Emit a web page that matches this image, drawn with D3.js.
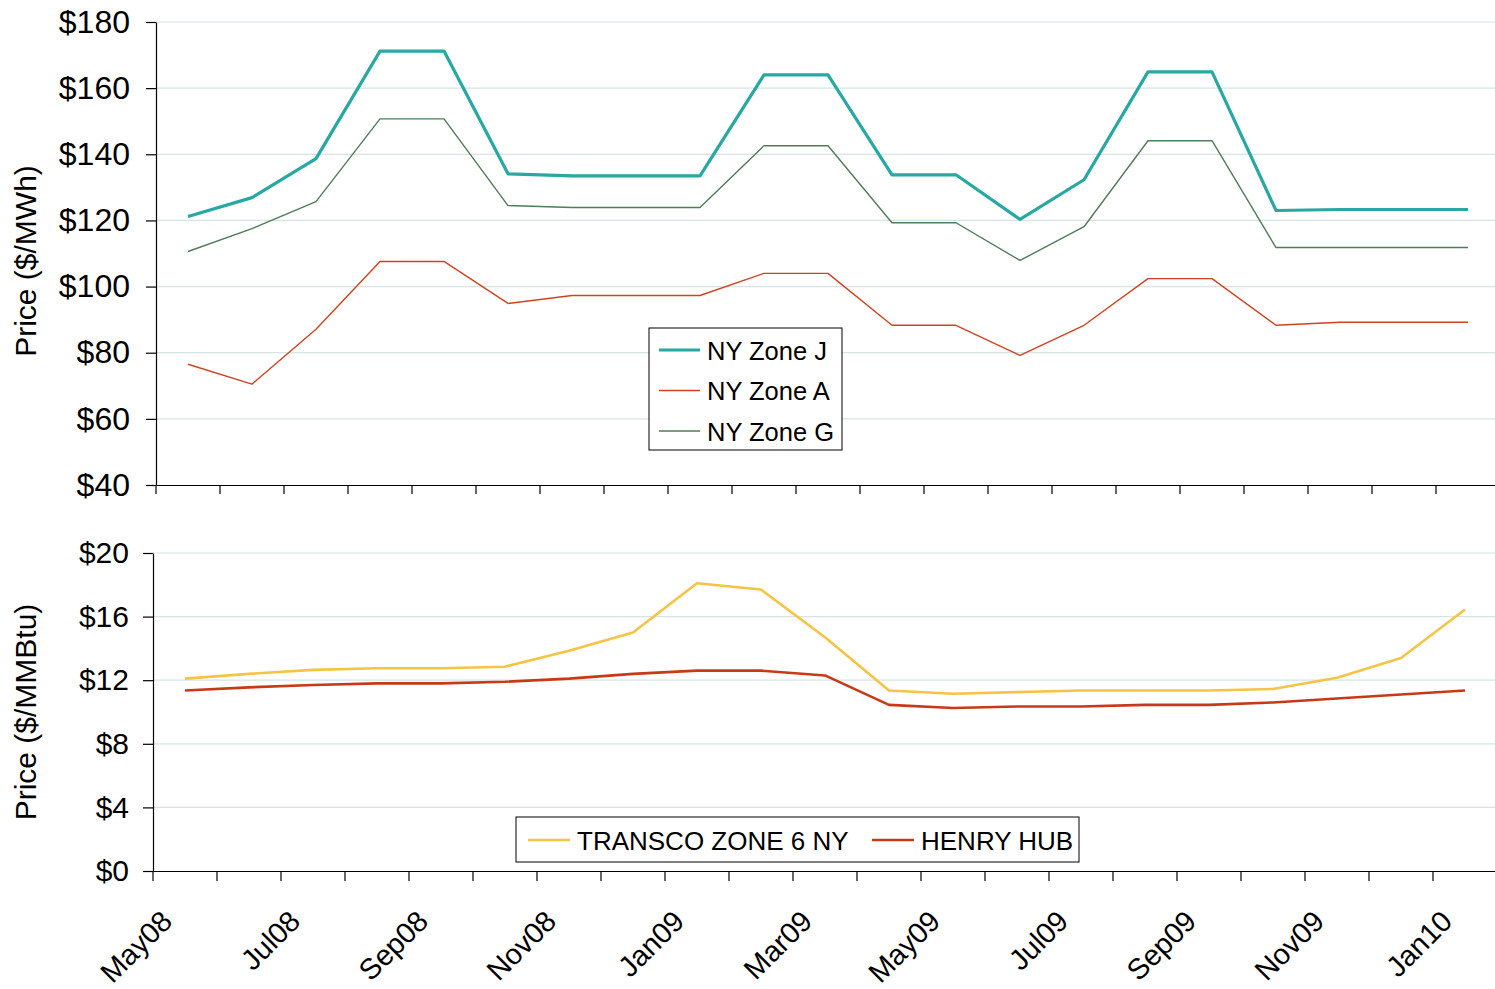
<!DOCTYPE html>
<html>
<head>
    <title>NY Power and Gas Prices</title>
    <style>
        body { margin: 0; background: #fff; font-family: "Liberation Sans", Arial, sans-serif; }
        svg { display: block; }
        .grid line { stroke: #d6e4e4; stroke-width: 1.2; }
        .axis path, .axis line { stroke: #000; stroke-width: 1.2; }
    </style>
</head>
<body>
    <svg id="chart" width="1495" height="989"></svg>
    <script src="https://d3js.org/d3.v7.min.js"></script>
    <script>
        // Months (May08 .. Jan10)
        const months = ["May08","Jun08","Jul08","Aug08","Sep08","Oct08","Nov08","Dec08",
            "Jan09","Feb09","Mar09","Apr09","May09","Jun09","Jul09","Aug09","Sep09","Oct09",
            "Nov09","Dec09","Jan10"];

        // Power prices, $/MWh
        const zoneJ = [121.2,126.9,138.7,171.2,171.2,134.1,133.5,133.5,133.5,164,164,
            133.8,133.8,120.3,132.3,164.9,164.9,123,123.3,123.3,123.3];
        const zoneA = [76.5,70.5,87.1,107.6,107.6,94.9,97.3,97.3,97.3,104,104,
            88.3,88.3,79.2,88.3,102.4,102.4,88.3,89.2,89.2,89.2];
        const zoneG = [110.6,117.5,125.7,150.7,150.7,124.5,123.9,123.9,123.9,142.6,142.6,
            119.3,119.3,107.9,118.1,144.1,144.1,111.8,111.8,111.8,111.8];

        // Gas prices, $/MMBtu
        const transco = [12.1,12.4,12.65,12.75,12.75,12.85,13.85,15.0,18.1,17.7,14.7,
            11.35,11.15,11.25,11.35,11.35,11.35,11.45,12.15,13.4,16.45];
        const henry = [11.35,11.55,11.7,11.8,11.8,11.9,12.1,12.4,12.6,12.6,12.3,
            10.45,10.25,10.35,10.35,10.45,10.45,10.6,10.85,11.1,11.35];

        const topTicks = [40,60,80,100,120,140,160,180];
        const botTicks = [0,4,8,12,16,20];
        const labelMonths = months.filter((m, i) => i % 2 === 0);

        const svg = d3.select("#chart");

        // ---- Top panel ----
        const xTop = d3.scaleBand().domain(months).range([156, 1500]);
        const yTop = d3.scaleLinear().domain([40, 180]).range([485, 22]);

        svg.append("g").attr("class", "grid")
            .selectAll("line").data(topTicks.slice(1)).enter().append("line")
            .attr("x1", 156).attr("x2", 1495)
            .attr("y1", d => yTop(d)).attr("y2", d => yTop(d));

        svg.append("g").attr("class", "axis")
            .attr("transform", "translate(156,0)")
            .call(d3.axisLeft(yTop).tickValues(topTicks).tickSize(10).tickSizeOuter(0)
                .tickFormat(d => "$" + d))
            .call(g => g.selectAll("text").attr("font-size", 32).attr("fill", "#000")
                .attr("font-family", "Liberation Sans, Arial, sans-serif").attr("x", -26));

        svg.append("g").attr("class", "axis")
            .attr("transform", "translate(0,485)")
            .call(d3.axisBottom(xTop).tickSize(0).tickSizeOuter(0).tickFormat(""))
            .call(g => g.selectAll(".tick").remove());
        svg.append("g").attr("class", "axis")
            .selectAll("line").data(months).enter().append("line")
            .attr("x1", d => xTop(d)).attr("x2", d => xTop(d))
            .attr("y1", 485).attr("y2", 494);

        svg.append("text")
            .attr("transform", "translate(36,261) rotate(-90)")
            .attr("text-anchor", "middle").attr("font-size", 30)
            .text("Price ($/MWh)");

        const lineTop = d3.line()
            .x((d, i) => xTop(months[i]) + xTop.bandwidth() / 2)
            .y(d => yTop(d));

        const topSeries = [
            {name: "NY Zone A", values: zoneA, color: "#d0431f", width: 1.4},
            {name: "NY Zone G", values: zoneG, color: "#4e7d57", width: 1.4},
            {name: "NY Zone J", values: zoneJ, color: "#27a8a3", width: 3.2}
        ];
        svg.append("g").selectAll("path").data(topSeries).enter().append("path")
            .attr("fill", "none")
            .attr("stroke", d => d.color)
            .attr("stroke-width", d => d.width)
            .attr("stroke-linejoin", "round")
            .attr("d", d => lineTop(d.values));

        // Top legend
        const legTop = svg.append("g").attr("transform", "translate(649,328)");
        legTop.append("rect").attr("width", 193).attr("height", 122)
            .attr("fill", "#fff").attr("stroke", "#000").attr("stroke-width", 1);
        const legOrder = [topSeries[2], topSeries[0], topSeries[1]];
        legOrder.forEach((s, i) => {
            const y = 22 + i * 40.5;
            legTop.append("line").attr("x1", 10).attr("x2", 51)
                .attr("y1", y).attr("y2", y)
                .attr("stroke", s.color).attr("stroke-width", s.width);
            legTop.append("text").attr("x", 58).attr("y", y + 9.5)
                .attr("font-size", 25.5).text(s.name);
        });

        // ---- Bottom panel ----
        const xBot = d3.scaleBand().domain(months).range([153, 1497]);
        const yBot = d3.scaleLinear().domain([0, 20]).range([871, 553]);

        svg.append("g").attr("class", "grid")
            .selectAll("line").data(botTicks.slice(1)).enter().append("line")
            .attr("x1", 153).attr("x2", 1495)
            .attr("y1", d => yBot(d)).attr("y2", d => yBot(d));

        svg.append("g").attr("class", "axis")
            .attr("transform", "translate(153,0)")
            .call(d3.axisLeft(yBot).tickValues(botTicks).tickSize(10).tickSizeOuter(0)
                .tickFormat(d => "$" + d))
            .call(g => g.selectAll("text").attr("font-size", 30).attr("fill", "#000")
                .attr("font-family", "Liberation Sans, Arial, sans-serif").attr("x", -24));

        svg.append("g").attr("class", "axis")
            .attr("transform", "translate(0,871)")
            .call(d3.axisBottom(xBot).tickSize(0).tickSizeOuter(0).tickFormat(""))
            .call(g => g.selectAll(".tick").remove());
        svg.append("g").attr("class", "axis")
            .selectAll("line").data(months).enter().append("line")
            .attr("x1", d => xBot(d)).attr("x2", d => xBot(d))
            .attr("y1", 871).attr("y2", 881);

        svg.append("g").selectAll("text").data(labelMonths).enter().append("text")
            .attr("transform", d => "translate(" + (xBot(d) + xBot.bandwidth() / 2 - 11) + ",923) rotate(-45)")
            .attr("text-anchor", "end")
            .attr("font-size", 29)
            .text(d => d);

        svg.append("text")
            .attr("transform", "translate(36,712) rotate(-90)")
            .attr("text-anchor", "middle").attr("font-size", 30)
            .text("Price ($/MMBtu)");

        const lineBot = d3.line()
            .x((d, i) => xBot(months[i]) + xBot.bandwidth() / 2)
            .y(d => yBot(d));

        const botSeries = [
            {name: "TRANSCO ZONE 6 NY", values: transco, color: "#f6c445", width: 2.6},
            {name: "HENRY HUB", values: henry, color: "#c73a17", width: 2.6}
        ];
        svg.append("g").selectAll("path").data(botSeries).enter().append("path")
            .attr("fill", "none")
            .attr("stroke", d => d.color)
            .attr("stroke-width", d => d.width)
            .attr("stroke-linejoin", "round")
            .attr("d", d => lineBot(d.values));

        // Bottom legend
        const legBot = svg.append("g").attr("transform", "translate(516,817)");
        legBot.append("rect").attr("width", 563).attr("height", 45)
            .attr("fill", "#fff").attr("stroke", "#000").attr("stroke-width", 1);
        const legX = [12, 356];
        botSeries.forEach((s, i) => {
            legBot.append("line").attr("x1", legX[i]).attr("x2", legX[i] + 42)
                .attr("y1", 23).attr("y2", 23)
                .attr("stroke", s.color).attr("stroke-width", s.width);
            legBot.append("text").attr("x", legX[i] + 49).attr("y", 32.5)
                .attr("font-size", 26).text(s.name);
        });
    </script>
</body>
</html>
